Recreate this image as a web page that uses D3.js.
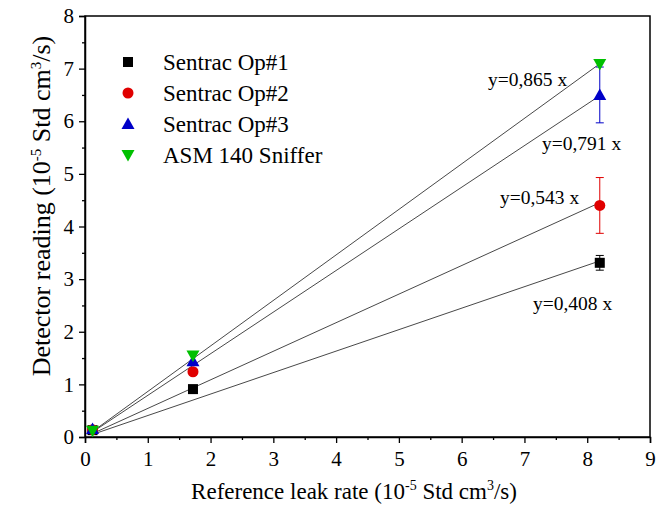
<!DOCTYPE html>
<html>
<head>
<meta charset="utf-8">
<script src="https://cdn.jsdelivr.net/npm/d3@7"></script>
<style>
  body { margin: 0; background: #fff; }
  svg { font-family: "Liberation Serif", "Times New Roman", serif; }
</style>
</head>
<body>
<svg id="chart" width="665" height="509"></svg>
<script>
// Data.
const refRate = [0.12, 1.72, 8.2];
const seriesNames = ["Sentrac Op#1", "Sentrac Op#2", "Sentrac Op#3", "ASM 140 Sniffer"];
const op1 = [0.13, 0.91, 3.31];
const op2 = [0.14, 1.24, 4.40];
const op3 = [0.15, 1.44, 6.50];
const asm = [0.12, 1.55, 7.09];
const errOp1 = [0, 0, 0.14];
const errOp2 = [0, 0, 0.53];
const errOp3 = [0, 0, 0.53];
const errAsm = [0, 0, 0];
const slopes = [0.408, 0.543, 0.791, 0.865];
const slopeLabels = ["y=0,408 x", "y=0,543 x", "y=0,791 x", "y=0,865 x"];
const xTicks = [0, 1, 2, 3, 4, 5, 6, 7, 8, 9];
const yTicks = [0, 1, 2, 3, 4, 5, 6, 7, 8];

const svg = d3.select("#chart");
const margin = { left: 85, right: 15, top: 16, bottom: 72 };
const W = 665, H = 509;

const x = d3.scaleLinear().domain([0, 9]).range([margin.left, W - margin.right]);
const y = d3.scaleLinear().domain([0, 8]).range([H - margin.bottom, margin.top]);

// Frame
svg.append("rect")
    .attr("x", x(0)).attr("y", y(8))
    .attr("width", x(9) - x(0)).attr("height", y(0) - y(8))
    .attr("fill", "none").attr("stroke", "#000").attr("stroke-width", 1.5);

// Axes with major and minor ticks
svg.append("g").attr("transform", `translate(0,${y(0)})`)
    .call(d3.axisBottom(x).tickValues(xTicks).tickSize(6).tickPadding(8).tickFormat(d3.format("d")));
svg.append("g").attr("transform", `translate(0,${y(0)})`)
    .call(d3.axisBottom(x).tickValues(d3.range(0.5, 9, 1)).tickSize(3).tickFormat(""))
    .select(".domain").remove();
svg.append("g").attr("transform", `translate(${x(0)},0)`)
    .call(d3.axisLeft(y).tickValues(yTicks).tickSize(6).tickPadding(5).tickFormat(d3.format("d")));
svg.append("g").attr("transform", `translate(${x(0)},0)`)
    .call(d3.axisLeft(y).tickValues(d3.range(0.5, 8, 1)).tickSize(3).tickFormat(""))
    .select(".domain").remove();

svg.selectAll(".tick line").attr("stroke-width", 1.3);
svg.selectAll(".domain").attr("stroke-width", 1.5);
svg.selectAll(".tick text")
    .attr("font-family", "Liberation Serif")
    .attr("font-size", 21)
    .attr("fill", "#000");

// Axis titles
const xTitle = svg.append("text")
    .attr("x", 354).attr("y", 499)
    .attr("text-anchor", "middle").attr("font-size", 23);
xTitle.append("tspan").text("Reference leak rate (10");
xTitle.append("tspan").attr("dy", -9).attr("font-size", 14).text("-5");
xTitle.append("tspan").attr("dy", 9).text(" Std cm");
xTitle.append("tspan").attr("dy", -9).attr("font-size", 14).text("3");
xTitle.append("tspan").attr("dy", 9).text("/s)");

const yTitle = svg.append("text")
    .attr("transform", `translate(50,206) rotate(-90)`)
    .attr("text-anchor", "middle").attr("font-size", 26);
yTitle.append("tspan").text("Detector reading (10");
yTitle.append("tspan").attr("dy", -9).attr("font-size", 15).text("-5");
yTitle.append("tspan").attr("dy", 9).text(" Std cm");
yTitle.append("tspan").attr("dy", -9).attr("font-size", 15).text("3");
yTitle.append("tspan").attr("dy", 9).text("/s)");

// Fit lines y = k x
const fitGroup = svg.append("g");
slopes.forEach((k) => {
    fitGroup.append("line")
        .attr("x1", x(refRate[0])).attr("y1", y(k * refRate[0]))
        .attr("x2", x(refRate[2])).attr("y2", y(k * refRate[2]))
        .attr("stroke", "#333").attr("stroke-width", 0.9);
});

// Fit labels
const labelPos = [[533, 310], [500, 204], [542, 150], [488, 86]];
slopeLabels.forEach((t, i) => {
    svg.append("text").attr("x", labelPos[i][0]).attr("y", labelPos[i][1])
        .attr("font-size", 19.5).text(t);
});

// Series
const series = [
    { name: seriesNames[0], vals: op1, err: errOp1, color: "#000", shape: "square" },
    { name: seriesNames[1], vals: op2, err: errOp2, color: "#e00000", shape: "circle" },
    { name: seriesNames[2], vals: op3, err: errOp3, color: "#0000c8", shape: "up" },
    { name: seriesNames[3], vals: asm, err: errAsm, color: "#00c000", shape: "down" }
];

function marker(g, shape, color, cx, cy) {
    if (shape === "square") {
        g.append("rect").attr("x", cx - 5).attr("y", cy - 5)
            .attr("width", 10).attr("height", 10).attr("fill", color);
    } else if (shape === "circle") {
        g.append("circle").attr("cx", cx).attr("cy", cy).attr("r", 5.5).attr("fill", color);
    } else if (shape === "up") {
        g.append("path").attr("d", `M${cx},${cy - 6.5}L${cx + 6.5},${cy + 5}L${cx - 6.5},${cy + 5}Z`).attr("fill", color);
    } else {
        g.append("path").attr("d", `M${cx},${cy + 6.5}L${cx + 6.5},${cy - 5}L${cx - 6.5},${cy - 5}Z`).attr("fill", color);
    }
}

series.forEach((s) => {
    const g = svg.append("g");
    s.vals.forEach((v, i) => {
        const e = s.err[i];
        if (e > 0) {
            const cx = x(refRate[i]);
            g.append("line").attr("x1", cx).attr("x2", cx)
                .attr("y1", y(v - e)).attr("y2", y(v + e))
                .attr("stroke", s.color).attr("stroke-width", 1);
            [v - e, v + e].forEach((ev) => {
                g.append("line").attr("x1", cx - 4).attr("x2", cx + 4)
                    .attr("y1", y(ev)).attr("y2", y(ev))
                    .attr("stroke", s.color).attr("stroke-width", 1);
            });
        }
    });
    s.vals.forEach((v, i) => marker(g, s.shape, s.color, x(refRate[i]), y(v)));
});

// Legend
const legend = svg.append("g");
series.forEach((s, i) => {
    const ly = 62 + i * 31;
    marker(legend, s.shape, s.color, 128, ly);
    legend.append("text").attr("x", 163).attr("y", ly + 8)
        .attr("font-size", 23).text(s.name);
});
</script>
</body>
</html>
